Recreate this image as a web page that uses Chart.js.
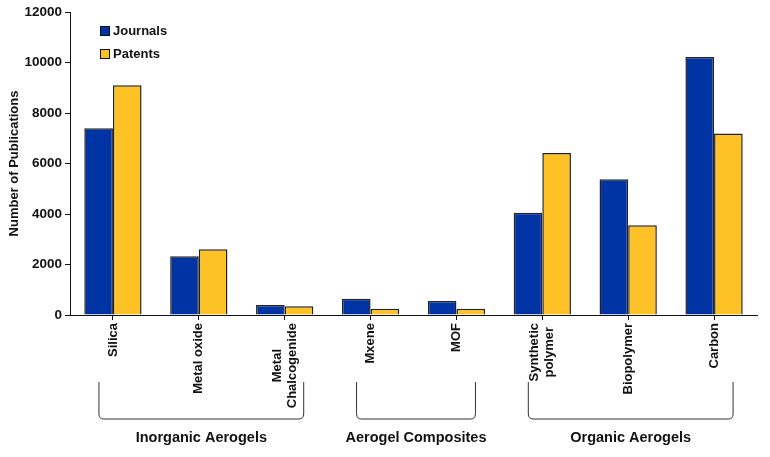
<!DOCTYPE html>
<html>
<head>
<meta charset="utf-8">
<script src="https://cdn.jsdelivr.net/npm/chart.js@4/dist/chart.umd.min.js"></script>
<style>
  html, body { margin: 0; padding: 0; background: #fff; }
  #wrap { width: 770px; height: 457px; }
</style>
</head>
<body>
<div id="wrap"><canvas id="chart" width="770" height="457"></canvas></div>
<script>
// categories
const categories = ['Silica', 'Metal oxide', ['Metal', 'Chalcogenide'], 'Mxene', 'MOF', ['Synthetic', 'polymer'], 'Biopolymer', 'Carbon'];
const journals = [7400, 2330, 400, 640, 550, 4050, 5380, 10220];
const patents = [9100, 2600, 350, 250, 250, 6420, 3550, 7190];
const yTicks = [0, 2000, 4000, 6000, 8000, 10000, 12000];

// groups below the axis (first and last category index)
const groupNames = ['Inorganic Aerogels', 'Aerogel Composites', 'Organic Aerogels'];
const groupStart = [0, 3, 5];
const groupEnd = [2, 4, 7];

const FONT = 'Liberation Sans, Arial, sans-serif';

// legend drawn inside the plot, top left
const legendPlugin = {
  id: 'boxLegend',
  afterDraw(chart) {
    const ctx = chart.ctx;
    const area = chart.chartArea;
    ctx.save();
    ctx.font = 'bold 13px ' + FONT;
    ctx.textBaseline = 'middle';
    chart.data.datasets.forEach((ds, i) => {
      const x = area.left + 30;
      const y = area.top + 19 + i * 23;
      ctx.fillStyle = ds.backgroundColor;
      ctx.fillRect(x, y - 5, 10, 10);
      ctx.strokeStyle = '#111';
      ctx.lineWidth = 1;
      ctx.strokeRect(x + 0.5, y - 4.5, 9, 9);
      ctx.fillStyle = '#111';
      ctx.fillText(ds.label, x + 13, y);
    });
    ctx.restore();
  }
};

// rotated category labels, lines centred on each other
const xLabelPlugin = {
  id: 'xLabels',
  afterDraw(chart) {
    const ctx = chart.ctx;
    const xs = chart.scales.x;
    const top = chart.chartArea.bottom + 8;
    ctx.save();
    ctx.font = 'bold 13px ' + FONT;
    ctx.fillStyle = '#111';
    ctx.textAlign = 'center';
    ctx.textBaseline = 'middle';
    categories.forEach((cat, i) => {
      const lines = Array.isArray(cat) ? cat : [cat];
      const maxW = Math.max(...lines.map(l => ctx.measureText(l).width));
      ctx.save();
      ctx.translate(xs.getPixelForValue(i), top);
      ctx.rotate(-Math.PI / 2);
      lines.forEach((l, j) => {
        ctx.fillText(l, -maxW / 2, (j - (lines.length - 1) / 2) * 15);
      });
      ctx.restore();
    });
    ctx.restore();
  }
};

// brackets and group names
const groupPlugin = {
  id: 'groups',
  afterDraw(chart) {
    const ctx = chart.ctx;
    const xs = chart.scales.x;
    ctx.save();
    ctx.strokeStyle = '#333';
    ctx.lineWidth = 1;
    const top = 382, bot = 419, r = 5;
    groupNames.forEach((name, i) => {
      const left = xs.getPixelForValue(groupStart[i]) - 14;
      const right = xs.getPixelForValue(groupEnd[i]) + 19;
      ctx.beginPath();
      ctx.moveTo(left, top);
      ctx.lineTo(left, bot - r);
      ctx.quadraticCurveTo(left, bot, left + r, bot);
      ctx.lineTo(right - r, bot);
      ctx.quadraticCurveTo(right, bot, right, bot - r);
      ctx.lineTo(right, top);
      ctx.stroke();
      ctx.font = 'bold 14.5px ' + FONT;
      ctx.fillStyle = '#111';
      ctx.textAlign = 'center';
      ctx.textBaseline = 'middle';
      ctx.fillText(name, (left + right) / 2, 438);
    });
    ctx.restore();
  }
};

new Chart(document.getElementById('chart'), {
  type: 'bar',
  data: {
    labels: categories,
    datasets: [
      { label: 'Journals', data: journals, backgroundColor: '#0033a3', borderColor: '#222', borderWidth: 1.5 },
      { label: 'Patents', data: patents, backgroundColor: '#ffc226', borderColor: '#222', borderWidth: 1.5 }
    ]
  },
  options: {
    responsive: false,
    animation: false,
    devicePixelRatio: 1,
    layout: { padding: { top: 12, right: 13, left: 0, bottom: 0 } },
    plugins: {
      legend: { display: false },
      tooltip: { enabled: false }
    },
    datasets: {
      bar: { categoryPercentage: 0.667, barPercentage: 1.0 }
    },
    scales: {
      x: {
        offset: true,
        grid: { display: true, drawOnChartArea: false, offset: false, tickLength: 5, color: '#111' },
        border: { display: true, color: '#111', width: 1 },
        ticks: { display: false },
        afterFit(scale) { scale.height = 142; }
      },
      y: {
        min: 0, max: 12000,
        afterBuildTicks(scale) { scale.ticks = yTicks.map(v => ({ value: v })); },
        grid: { display: true, drawOnChartArea: false, tickLength: 5, color: '#111' },
        border: { display: true, color: '#111', width: 1 },
        ticks: {
          padding: 3, color: '#111', font: { family: FONT, size: 13.5, weight: 'bold' },
          callback: v => String(v)
        },
        title: {
          display: true, text: 'Number of Publications', color: '#111', padding: { top: 7, bottom: 0 },
          font: { family: FONT, size: 13, weight: 'bold' }
        },
        afterFit(scale) { scale.width = 70; }
      }
    }
  },
  plugins: [legendPlugin, xLabelPlugin, groupPlugin]
});
</script>
</body>
</html>
